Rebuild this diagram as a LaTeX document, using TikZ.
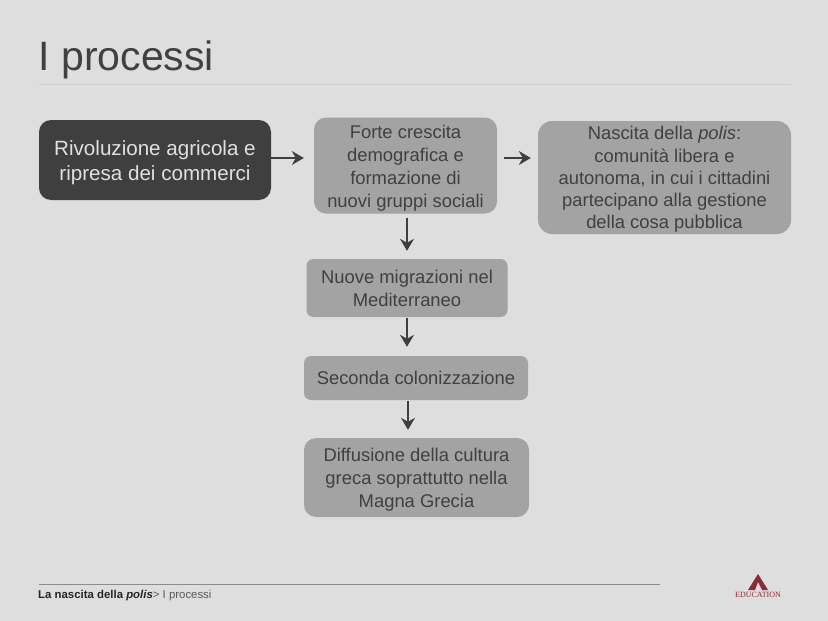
\documentclass[tikz,border=0pt]{standalone}
\usepackage{xcolor}
\usepackage{fontspec}
\setmainfont{Liberation Sans}
\newfontfamily\logofont{Liberation Serif}
\usetikzlibrary{arrows.meta}
\definecolor{slidebg}{HTML}{DEDEDE}
\definecolor{boxgray}{HTML}{A3A3A3}
\definecolor{boxdark}{HTML}{3F3F3F}
\definecolor{inkgray}{HTML}{404040}
\definecolor{logored}{HTML}{8E2A36}
% pushes the first line of a box down
\newcommand{\toppad}[1]{\rule{0pt}{#1pt}}

\begin{document}
\begin{tikzpicture}[x=1pt,y=-1pt,
		>={Stealth[inset=4pt,length=12pt,width=14pt]},
		step_box/.style={
			% The shape:
			rectangle,rounded corners=12pt,inner sep=0pt,
			% The rest
			fill=boxgray,text=inkgray,align=center,
			font=\fontsize{18.4}{23}\selectfont},
		start_box/.style={step_box,fill=boxdark,text=slidebg!95!white,
			font=\fontsize{20.6}{25}\selectfont},
		link/.style={->,draw=boxdark,line width=1.7pt}]
		\useasboundingbox (0,0) rectangle (828,621);
		\fill[slidebg] (0,0) rectangle (828,621);

		\node (c_title)		[anchor=base west,inner sep=0pt,text=inkgray,font=\fontsize{41}{44}\selectfont] at (38.5,70) {I processi};
		\coordinate (c_rule_a) at (39,84);
		\coordinate (c_rule_b) at (791,84);
		\draw[black!18,line width=0.8pt] (c_rule_a) -- (c_rule_b);

		\node (c_rev)		[start_box,minimum width=232pt,minimum height=80pt] at (155,160) {\toppad{21}Rivoluzione agricola e\\ripresa dei commerci};
		\node (c_forte)		[step_box,minimum width=183pt,minimum height=96pt] at (405.5,165.5) {\toppad{18}Forte crescita\\demografica e\\formazione di\\nuovi gruppi sociali};
		\node (c_polis)		[step_box,minimum width=253pt,minimum height=113pt,rounded corners=14pt,font=\fontsize{18.4}{22.3}\selectfont] at (664.5,177.5) {\toppad{17.5}Nascita della \textit{polis}:\\comunità libera e\\autonoma, in cui i cittadini\\partecipano alla gestione\\della cosa pubblica};
		\node (c_nuove)		[step_box,minimum width=201pt,minimum height=58pt,rounded corners=7pt] at (407,288) {Nuove migrazioni nel\\Mediterraneo};
		\node (c_seconda)	[step_box,minimum width=224pt,minimum height=44pt,rounded corners=7pt] at (416,378) {Seconda colonizzazione};
		\node (c_diff)		[step_box,minimum width=225pt,minimum height=79pt] at (416.5,477.5) {\toppad{18.5}Diffusione della cultura\\greca soprattutto nella\\Magna Grecia};

		\path	([yshift=2pt]c_rev.east)	edge[link,shorten >=10pt]	([yshift=2pt]c_rev.east -| c_forte.west)
				([yshift=7.5pt]c_forte.east)	edge[link,shorten <=7pt,shorten >=7pt]	([yshift=7.5pt]c_forte.east -| c_polis.west)
				([xshift=1.5pt]c_forte.south)	edge[link,shorten <=4pt,shorten >=8pt]	([xshift=1.5pt]c_forte.south |- c_nuove.north)
				(c_nuove.south)	edge[link,shorten <=1pt,shorten >=9pt]	(c_nuove.south |- c_seconda.north)
				([xshift=-8pt]c_seconda.south)	edge[link,shorten <=1pt,shorten >=8pt]	([xshift=-8pt]c_seconda.south |- c_diff.north);

		\coordinate (c_foot_a) at (39,584);
		\coordinate (c_foot_b) at (660,584);
		\draw[black!45,line width=0.9pt] (c_foot_a) -- (c_foot_b);
		\node (c_foot)		[anchor=base west,inner sep=0pt,text=black!65,font=\fontsize{11.4}{13}\selectfont] at (38,598.5) {\textcolor{black!85}{\textbf{La nascita della \textit{polis}}}> I processi};

		% logo
		\fill[logored] (758,574) -- (768,590) -- (762,590) -- (758,582) -- (755,590) -- (748,590) -- cycle;
		\node (c_logo)		[inner sep=0pt,text=logored,font=\logofont\fontsize{8}{9}\selectfont] at (758,595) {EDUCATION};
	\end{tikzpicture}
\end{document}
